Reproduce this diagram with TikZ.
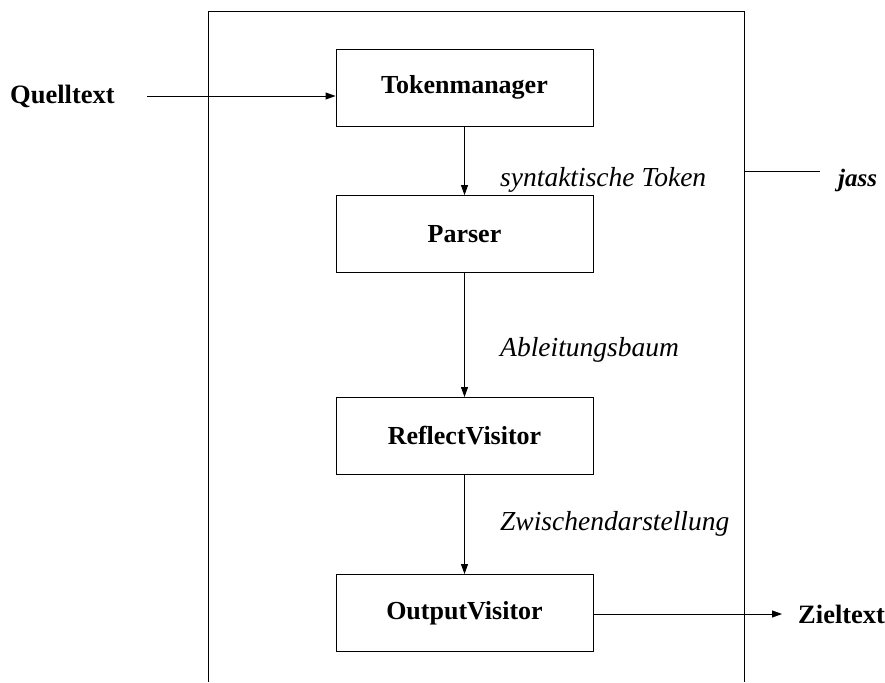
\documentclass[tikz,border=0pt]{standalone}
\usepackage{fontspec}
\setmainfont{Liberation Serif}
\usetikzlibrary{arrows.meta}
\begin{document}
\begin{tikzpicture}[x=1pt,y=-1pt,
  box/.style={draw,line width=0.9pt,minimum width=257pt,minimum height=77pt,inner sep=0pt,font=\fontsize{26}{30}\selectfont\bfseries},
  lbl/.style={anchor=west,inner sep=0pt,font=\fontsize{27.5}{32}\selectfont\itshape},
  outer/.style={anchor=west,inner sep=0pt,font=\fontsize{26.5}{30}\selectfont\bfseries},
  arr/.style={line width=0.9pt,-{Triangle[length=10pt,width=7pt]}},
  ln/.style={line width=0.9pt}]
\useasboundingbox (0,0) rectangle (885,682);
% outer frame (open at bottom)
\coordinate (fbl) at (208,682);
\coordinate (ftl) at (208,11);
\coordinate (ftr) at (744,11);
\coordinate (fbr) at (744,682);
\draw[ln] (fbl) -- (ftl) -- (ftr) -- (fbr);
% boxes
\node[box] (tok) at (464.5,87.5) {Tokenmanager};
\node[box] (par) at (464.5,234) {Parser};
\node[box] (ref) at (464.5,436) {ReflectVisitor};
\node[box] (out) at (464.5,613) {OutputVisitor};
% arrows
\draw[arr] (tok) -- (par);
\draw[arr] (par) -- (ref);
\draw[arr] (ref) -- (out);
% labels
\node[lbl] (l1) at (500,180) {syntaktische Token};
\node[lbl] (l2) at (500,350) {Ableitungsbaum};
\node[lbl] (l3) at (500,524) {Zwischendarstellung};
% input / output
\node[outer] (q) at (10,96) {Quelltext};
\coordinate (qs) at (147,96);
\draw[arr] (qs) -- (tok.west |- qs);
\node[outer] (z) at (798,614) {Zieltext};
\coordinate (ze) at (782,614);
\draw[arr] (out.east |- ze) -- (ze);
% jass
\coordinate (js) at (744,171);
\coordinate (je) at (820,171);
\draw[ln] (js) -- (je);
\node[outer,font=\fontsize{25}{30}\selectfont\bfseries\itshape] (j) at (838,180) {jass};
\end{tikzpicture}
\end{document}
